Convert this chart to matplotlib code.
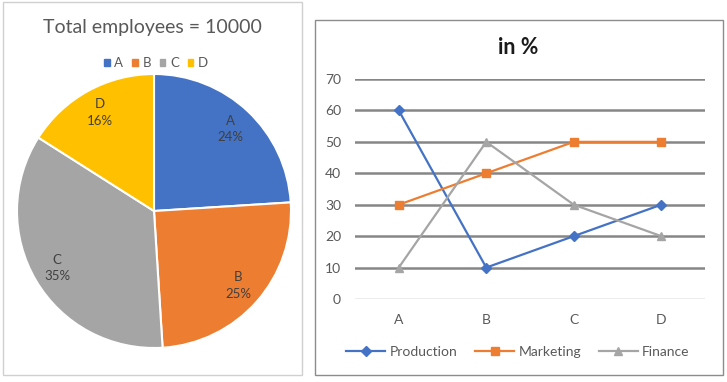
import matplotlib
matplotlib.use("Agg")
import matplotlib.pyplot as plt
from matplotlib.patches import Rectangle

plt.rcParams["font.family"] = ["Lato", "DejaVu Sans"]

# ── data ──────────────────────────────────────────────────────────────────────
pie_labels = ["A", "B", "C", "D"]
pie_shares = [24, 25, 35, 16]
pie_colors = ["#4472C4", "#ED7D31", "#A5A5A5", "#FFC000"]

categories = ["A", "B", "C", "D"]
production = [60, 10, 20, 30]
marketing  = [30, 40, 50, 50]
finance    = [10, 50, 30, 20]

W, H = 727, 382
TXT = "#595959"

fig = plt.figure(figsize=(W / 100, H / 100), dpi=100)

def px_rect(x0, y0, x1, y1):
    """pixel box (top-left origin) -> figure fraction [l, b, w, h]"""
    return [x0 / W, 1 - y1 / H, (x1 - x0) / W, (y1 - y0) / H]

# chart frames
for (x0, y0, x1, y1), ec in [((3, 2, 302, 375), "#d0d0d0"), ((315, 20, 723, 375), "#8c8c8c")]:
    l, b, w, h = px_rect(x0, y0, x1, y1)
    fig.patches.append(Rectangle((l, b), w, h, transform=fig.transFigure,
                                 fill=False, edgecolor=ec, linewidth=1))

# ── Left: pie ────────────────────────────────────────────────────────────────
cx, cy, r = 154, 211, 137
ax1 = fig.add_axes(px_rect(cx - r, cy - r, cx + r, cy + r))
wedges, texts = ax1.pie(pie_shares, colors=pie_colors, startangle=90, counterclock=False,
                        labels=[f"{l}\n{s}%" for l, s in zip(pie_labels, pie_shares)],
                        labeldistance=0.82,
                        wedgeprops=dict(edgecolor="white", linewidth=1.5),
                        textprops=dict(fontsize=9.5, color="#404040", ha="center",
                                       va="center", linespacing=1.45))
ax1.set_xlim(-1, 1)
ax1.set_ylim(-1, 1)
ax1.set_aspect("equal")

fig.text(152 / W, 1 - 27 / H, "Total employees = 10000", ha="center", va="center",
         fontsize=14, color=TXT)
handles = [Rectangle((0, 0), 1, 1, color=c) for c in pie_colors]
fig.legend(handles, pie_labels, loc="center", bbox_to_anchor=(156 / W, 1 - 63 / H),
           ncol=4, frameon=False, fontsize=9.5, handlelength=0.45, handleheight=0.45,
           handletextpad=0.35, columnspacing=0.65, labelcolor=TXT)

# ── Right: lines ─────────────────────────────────────────────────────────────
ax2 = fig.add_axes(px_rect(355, 79, 705, 299))
x = range(len(categories))
ax2.plot(x, production, color="#4472C4", lw=1.6, marker="D", ms=5, label="Production")
ax2.plot(x, marketing, color="#ED7D31", lw=1.6, marker="s", ms=5.5, label="Marketing")
ax2.plot(x, finance, color="#A5A5A5", lw=1.6, marker="^", ms=6, label="Finance")
ax2.set_xlim(-0.5, 3.5)
ax2.set_ylim(0, 70)
ax2.set_yticks(range(0, 71, 10))
ax2.set_xticks(list(x))
ax2.set_xticklabels(categories)
for yv in range(10, 71, 10):
    ax2.axhline(yv, color="#868686", lw=1.8, zorder=0)
ax2.axhline(0, color="#a6a6a6", lw=1, zorder=0)
for s in ax2.spines.values():
    s.set_visible(False)
ax2.tick_params(length=0, labelsize=10, labelcolor=TXT)
ax2.tick_params(axis="y", pad=10)
ax2.tick_params(axis="x", pad=11)

fig.text(518 / W, 1 - 47 / H, "in %", ha="center", va="center", fontsize=15.5,
         fontweight="bold", color="#1a1a1a")
fig.legend(*ax2.get_legend_handles_labels(), loc="center",
           bbox_to_anchor=(518 / W, 1 - 352 / H), ncol=3, frameon=False, fontsize=10,
           handlelength=2.8, handletextpad=0.3, columnspacing=1.3, labelcolor=TXT)

fig.savefig("out.png", dpi=100)
